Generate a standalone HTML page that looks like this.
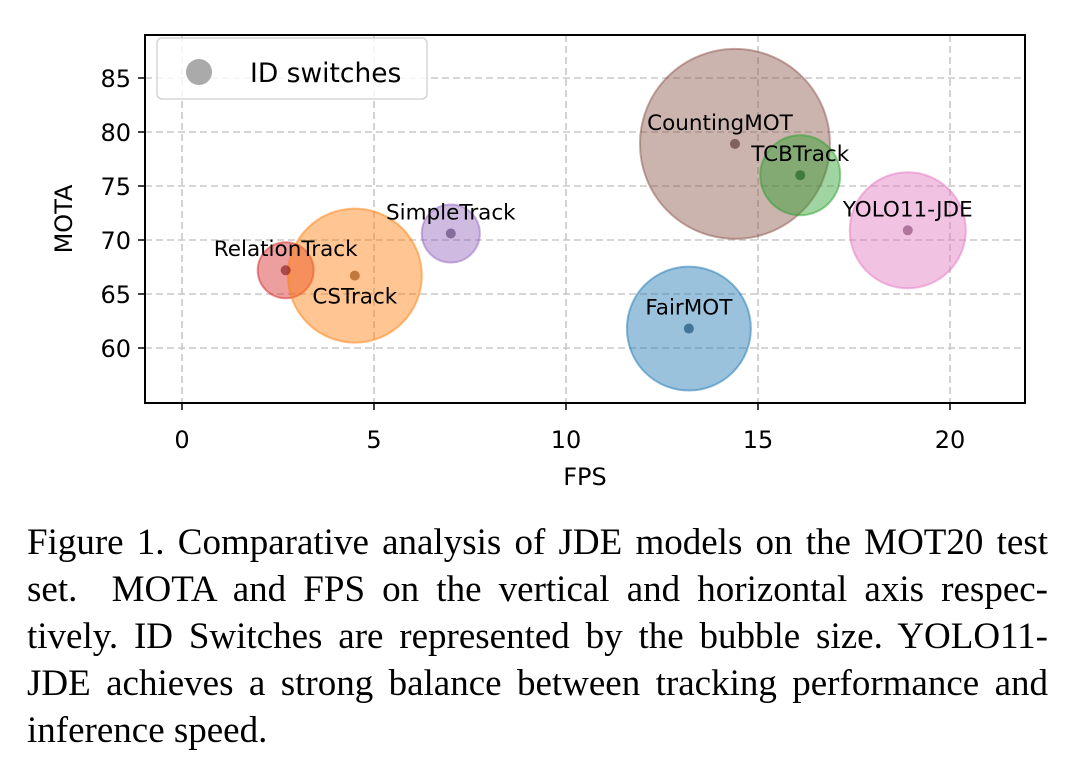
<!DOCTYPE html>
<html><head><meta charset="utf-8"><style>
body{margin:0;background:#fff;width:1080px;height:769px;overflow:hidden}
svg{position:absolute;left:0;top:0}
#cap{position:absolute;left:27px;top:519px;width:1021px;font-family:"Liberation Serif",serif;font-size:37px;line-height:47px;color:#000}
#cap div{text-align:justify;text-align-last:justify;white-space:nowrap;word-spacing:-2px}
#cap div.last{text-align-last:left;word-spacing:0}
</style></head><body>
<svg id="chart" width="1080" height="510"></svg>
<div id="cap">
<div>Figure 1. Comparative analysis of JDE models on the MOT20 test</div>
<div>set.&nbsp; MOTA and FPS on the vertical and horizontal axis respec-</div>
<div>tively. ID Switches are represented by the bubble size. YOLO11-</div>
<div>JDE achieves a strong balance between tracking performance and</div>
<div class="last">inference speed.</div>
</div>
<script>
const names=["RelationTrack","CSTrack","SimpleTrack","FairMOT","CountingMOT","TCBTrack","YOLO11-JDE"];
const fps=[2.7,4.5,7.0,13.2,14.4,16.1,18.9];
const mota=[67.2,66.7,70.6,61.8,78.9,76.0,70.9];
const idsw=[348,1995,374,1708,4011,711,1495];
const xTicks=[0,5,10,15,20];
const yTicks=[60,65,70,75,80,85];
const colors=["#d62728","#ff7f0e","#9467bd","#1f77b4","#8c564b","#2ca02c","#e377c2"];
const NS="http://www.w3.org/2000/svg";
const svg=document.getElementById("chart");
const L=145,R=1025,T=35,B=403;
const xs=v=>182+v*38.4, ys=v=>348-(v-60)*10.8, rs=v=>1.5*Math.sqrt(v);
function el(t,a,p){const e=document.createElementNS(NS,t);for(const k in a)e.setAttribute(k,a[k]);(p||svg).appendChild(e);return e;}
const F='"DejaVu Sans","Liberation Sans",sans-serif';
const clip=el("clipPath",{id:"pc"});el("rect",{x:L,y:T,width:R-L,height:B-T},clip);
const grid=el("g",{stroke:"#c8c8c8","stroke-width":1.6,"stroke-dasharray":"7,4"});


xTicks.forEach(v=>{el("line",{x1:xs(v),x2:xs(v),y1:T,y2:B},grid);
 const t=el("text",{x:xs(v),y:B+45,"text-anchor":"middle","font-family":F,"font-size":24});t.textContent=v;
 
 
 el("line",{x1:xs(v),x2:xs(v),y1:B,y2:B+7,stroke:"#000","stroke-width":1.5});});
yTicks.forEach(v=>{el("line",{x1:L,x2:R,y1:ys(v),y2:ys(v)},grid);
 const t=el("text",{x:L-14,y:ys(v)+9,"text-anchor":"end","font-family":F,"font-size":24});t.textContent=v;
 
 
 el("line",{x1:L-7,x2:L,y1:ys(v),y2:ys(v),stroke:"#000","stroke-width":1.5});});
const g=el("g",{"clip-path":"url(#pc)"});
names.forEach((n,i)=>{
 const c=el("circle",{cx:xs(fps[i]),cy:ys(mota[i]),r:rs(idsw[i]),fill:colors[i],"fill-opacity":0.45,stroke:colors[i],"stroke-opacity":0.5,"stroke-width":2},g);
 
 
});
names.forEach((n,i)=>{
 const d=el("circle",{cx:xs(fps[i]),cy:ys(mota[i]),r:5,fill:colors[i],"fill-opacity":0.5},g);
 el("circle",{cx:xs(fps[i]),cy:ys(mota[i]),r:5,fill:"#000","fill-opacity":0.25},g);
 
 
});
names.forEach((n,i)=>{
 const below=n==="CSTrack";
 const dx=n==="CountingMOT"?-15:0;
 const t=el("text",{x:xs(fps[i])+dx,y:ys(mota[i])+(below?28:-14),"text-anchor":"middle","font-family":F,"font-size":21.5});t.textContent=n;
 
 
});
el("rect",{x:L,y:T,width:R-L,height:B-T,fill:"none",stroke:"#000","stroke-width":2});
const lg=el("g",{});


el("rect",{x:157,y:38,width:270,height:61,rx:5,fill:"#fff","fill-opacity":0.8,stroke:"#d5d5d5","stroke-width":1.5},lg);
el("circle",{cx:199,cy:72,r:13,fill:"#aaa"},lg);
const lt=el("text",{x:250,y:82,"font-family":F,"font-size":26.5},lg);lt.textContent="ID switches";
const xl=el("text",{x:585,y:485,"text-anchor":"middle","font-family":F,"font-size":24});xl.textContent="FPS";


const yl=el("text",{x:0,y:0,"text-anchor":"middle","font-family":F,"font-size":24,transform:"translate(72,219) rotate(-90)"});yl.textContent="MOTA";


</script>
</body></html>
